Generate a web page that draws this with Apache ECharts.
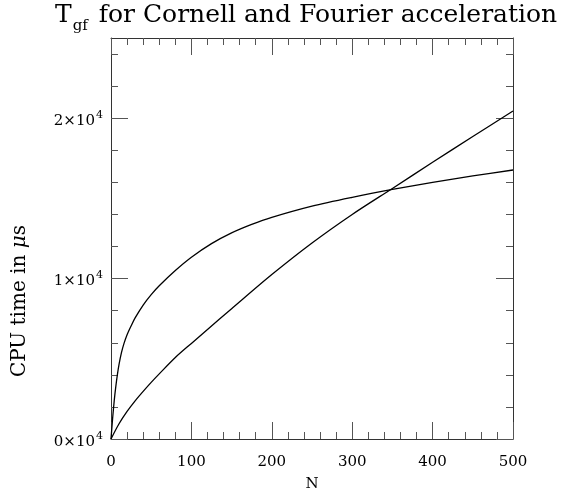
<!DOCTYPE html>
<html>
<head>
<meta charset="utf-8">
<script src="https://cdn.jsdelivr.net/npm/echarts@6/dist/echarts.min.js"></script>
<style>
  html, body { margin: 0; padding: 0; background: #ffffff; }
  #chart { width: 570px; height: 493px; }
</style>
</head>
<body>
<div id="chart"></div>
<script>
// Lattice size N, curve with the fast initial rise
const nFourier = [0, 2, 4, 6, 8, 10, 13, 16, 20, 25, 30, 40, 50, 60, 80, 100, 125, 150, 175, 200, 250, 300, 350, 400, 450, 500];
// CPU time (microseconds)
const timeFourier = [0, 1280, 2380, 3280, 4030, 4650, 5380, 5930, 6500, 7050, 7550, 8350, 9000, 9550, 10500, 11330, 12180, 12850, 13380, 13820, 14520, 15070, 15560, 16000, 16400, 16770];

// Lattice size N, nearly linear curve
const nCornell = [0, 10, 20, 30, 40, 50, 60, 80, 100, 120, 150, 200, 250, 300, 350, 400, 450, 500];
// CPU time (microseconds)
const timeCornell = [0, 950, 1720, 2380, 2970, 3530, 4060, 5080, 5960, 6830, 8120, 10250, 12220, 14000, 15620, 17250, 18860, 20450];

const xMajorTicks = [0, 100, 200, 300, 400, 500];
const yMajorTicks = [0, 10000, 20000];
const yMinorTicks = [2000, 4000, 6000, 8000, 12000, 14000, 16000, 18000, 22000, 24000];
const yMax = 25000;

const serif = 'DejaVu Serif';
const lineCol = '#333333';
const tickCol = '#555555';

function pairs(xs, ys) { return xs.map((n, i) => [n, ys[i]]); }

function xAxisDef(pos, labels) {
  return {
    type: 'value', position: pos, min: 0, max: 500, interval: 100,
    axisLine: { show: true, onZero: false, lineStyle: { color: lineCol, width: 1 } },
    axisTick: { show: true, inside: true, length: 17, lineStyle: { color: tickCol, width: 1 } },
    minorTick: { show: true, splitNumber: 5, length: 7, lineStyle: { color: tickCol, width: 1 } },
    axisLabel: labels ? { show: true, margin: 16, fontFamily: serif, fontSize: 15, color: '#000',
      customValues: xMajorTicks } : { show: false },
    splitLine: { show: false }, minorSplitLine: { show: false },
    name: labels ? 'N' : '', nameLocation: 'middle', nameGap: 38,
    nameTextStyle: { fontFamily: serif, fontSize: 15, color: '#000' }
  };
}

function yAxisDef(pos, major, labels) {
  return {
    type: 'value', position: pos, min: 0, max: yMax,
    axisLine: { show: major, onZero: false, lineStyle: { color: lineCol, width: 1 } },
    axisTick: { show: true, inside: true, length: major ? 17 : 7,
      customValues: major ? yMajorTicks : yMinorTicks, lineStyle: { color: tickCol, width: 1 } },
    axisLabel: labels ? {
      show: true, margin: 8, customValues: yMajorTicks,
      formatter: v => '{m|' + (v / 10000) + '×10}{e|4}',
      rich: {
        m: { fontFamily: serif, fontSize: 15, color: '#000', verticalAlign: 'bottom', padding: [6, 0, 0, 0] },
        e: { fontFamily: serif, fontSize: 11, color: '#000', verticalAlign: 'bottom', padding: [0, 0, 8, 1] }
      }
    } : { show: false },
    splitLine: { show: false }
  };
}

const chart = echarts.init(document.getElementById('chart'), null, { renderer: 'canvas' });
chart.setOption({
  backgroundColor: '#ffffff',
  animation: false,
  title: {
    left: 50, top: -2,
    text: '{t|T}{s|gf}{t| for Cornell and Fourier acceleration}',
    textStyle: {
      fontWeight: 'normal',
      rich: {
        t: { fontFamily: serif, fontSize: 25, fontWeight: 'normal', color: '#000', verticalAlign: 'bottom', padding: [0, 0, 6, 0] },
        s: { fontFamily: serif, fontSize: 15, fontWeight: 'normal', color: '#000', verticalAlign: 'bottom', padding: [0, 3, 0, 1] }
      }
    }
  },
  grid: { left: 111, right: 57, top: 38, bottom: 54, containLabel: false, outerBoundsMode: 'none' },
  xAxis: [xAxisDef('bottom', true), xAxisDef('top', false)],
  yAxis: [
    yAxisDef('left', true, true),
    yAxisDef('left', false, false),
    yAxisDef('right', true, false),
    yAxisDef('right', false, false)
  ],
  graphic: [{
    type: 'text', left: 10, top: 225, rotation: Math.PI / 2,
    style: {
      text: '{r|CPU time in }{i|μ}{r|s}',
      rich: {
        r: { fontFamily: serif, fontSize: 20, fill: '#000' },
        i: { fontFamily: serif, fontSize: 20, fontStyle: 'italic', fill: '#000' }
      }
    }
  }],
  series: [
    { type: 'line', data: pairs(nFourier, timeFourier), showSymbol: false,
      smooth: 0.3, lineStyle: { color: '#000', width: 1.3 } },
    { type: 'line', data: pairs(nCornell, timeCornell), showSymbol: false,
      smooth: 0.3, lineStyle: { color: '#000', width: 1.3 } }
  ]
});
</script>
</body>
</html>
